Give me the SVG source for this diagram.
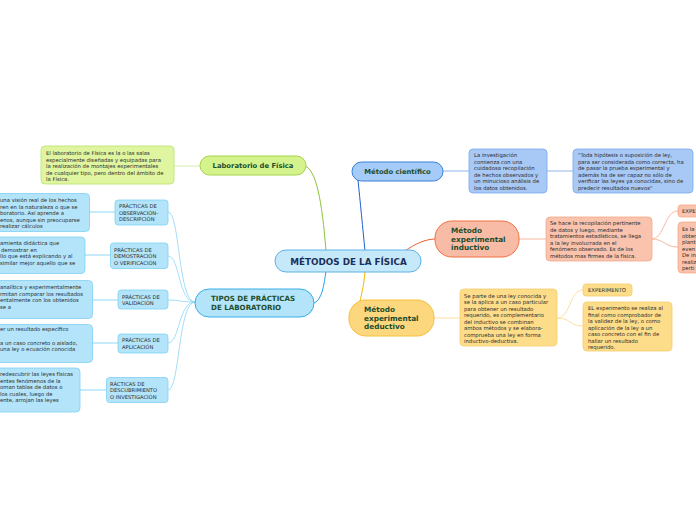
<svg xmlns="http://www.w3.org/2000/svg" width="696" height="520" viewBox="0 0 696 520">
<style>
text{font-family:"DejaVu Sans","Liberation Sans",sans-serif}
.s{font-size:5.3px;fill:#2a2a2a}
.c{font-size:5.2px;fill:#2a2a2a}
.m{font-size:7.3px;font-weight:bold;fill:#1e4d2b}
.cn{fill:none;stroke-width:1}
</style>
<rect width="696" height="520" fill="#fff"/>
<g id="connectors">
  <path class="cn" d="M305,166 C316,170 322,200 326,251" stroke="#8cc43c" stroke-width="1.4"/>
  <path class="cn" d="M174,166 H200" stroke="#d4ecab" stroke-width="1.5"/>
  <path class="cn" d="M358,180 C360,200 363,230 365,251" stroke="#1f5fd0" stroke-width="1.4"/>
  <path class="cn" d="M443,171 H469 M547,171 H573" stroke="#8fb4ec"/>
  <path class="cn" d="M405,251 C415,244 425,239 436,239" stroke="#f06030" stroke-width="1.4"/>
  <path class="cn" d="M519,239 H546" stroke="#f8b8a0"/>
  <path class="cn" d="M651,239 C665,239 664,211 678,211 M651,239 C665,239 664,247 678,247" stroke="#f8b8a0"/>
  <path class="cn" d="M365,271 C364,285 362,292 360,301" stroke="#f5b800" stroke-width="1.4"/>
  <path class="cn" d="M434,318 H460" stroke="#fde0a0"/>
  <path class="cn" d="M557,318 C571,318 569,290 583,290 M557,318 C571,318 569,326 583,326" stroke="#fde0a0"/>
  <path class="cn" d="M314,303 C322,300 324,285 326,271" stroke="#1ea4e4" stroke-width="1.4"/>
  <g stroke="#8dd6f4" fill="none" stroke-width="0.8">
    <path d="M168,212 C180,212 178,302 195,302"/>
    <path d="M168,256 C180,256 178,302 195,302"/>
    <path d="M168,300 C180,300 180,302 195,302"/>
    <path d="M168,343 C180,343 178,302 195,302"/>
    <path d="M168,390 C180,390 178,302 195,302"/>
    <path d="M89,212 H115 M85,255 H110 M92,300 H118 M92,343 H118 M80,390 H106" stroke-width="1"/>
  </g>
</g>
<g id="central">
  <rect x="275" y="250" width="146" height="22" rx="11" fill="#c6e9fa" stroke="#5eb0e5"/>
  <text x="348.5" y="264.5" text-anchor="middle" style="font-size:8.8px;font-weight:bold;fill:#1a2f5a">MÉTODOS DE LA FÍSICA</text>
</g>
<g id="lab">
  <rect x="200" y="156" width="106" height="19" rx="9.5" fill="#d5f38d" stroke="#a5d34a"/>
  <text x="253" y="168" text-anchor="middle" class="m" style="font-size:6.8px">Laboratorio de Física</text>
</g>
<g id="lab-desc">
  <rect x="41" y="146" width="133" height="38" rx="4" fill="#dff5a0" stroke="#b9e36b" stroke-width="0.8"/>
  <text class="s"><tspan x="46" y="155">El laboratorio de Física es la o las salas</tspan><tspan x="46" y="161.5">especialmente diseñadas y equipadas para</tspan><tspan x="46" y="168">la realización de montajes experimentales</tspan><tspan x="46" y="174.5">de cualquier tipo, pero dentro del ámbito de</tspan><tspan x="46" y="181">la Física.</tspan></text>
</g>
<g id="cientifico">
  <rect x="352" y="162" width="91" height="19" rx="9.5" fill="#a5ccf8" stroke="#3a7fd8"/>
  <text x="397.5" y="174" text-anchor="middle" class="m" style="font-size:6.8px">Método científico</text>
</g>
<g id="cientifico-1">
  <rect x="469" y="149" width="78" height="44" rx="4" fill="#a8c8f5" stroke="#7aa8ec" stroke-width="0.8"/>
  <text class="s"><tspan x="474" y="157">La investigación</tspan><tspan x="474" y="163.5">comienza con una</tspan><tspan x="474" y="170">cuidadosa recopilación</tspan><tspan x="474" y="176.5">de hechos observados y</tspan><tspan x="474" y="183">un minucioso análisis de</tspan><tspan x="474" y="189.5">los datos obtenidos.</tspan></text>
</g>
<g id="cientifico-2">
  <rect x="573" y="149" width="120" height="44" rx="4" fill="#a8c8f5" stroke="#7aa8ec" stroke-width="0.8"/>
  <text class="s"><tspan x="578" y="157">"Toda hipótesis o suposición de ley,</tspan><tspan x="578" y="163.5">para ser considerada como correcta, ha</tspan><tspan x="578" y="170">de pasar la prueba experimental y</tspan><tspan x="578" y="176.5">además ha de ser capaz no sólo de</tspan><tspan x="578" y="183">verificar las leyes ya conocidas, sino de</tspan><tspan x="578" y="189.5">predecir resultados nuevos"</tspan></text>
</g>
<g id="inductivo">
  <rect x="435" y="221" width="84" height="36" rx="17" fill="#f8bba6" stroke="#f07040"/>
  <text class="m"><tspan x="451" y="233">Método</tspan><tspan x="451" y="241.5">experimental</tspan><tspan x="451" y="250">inductivo</tspan></text>
</g>
<g id="inductivo-1">
  <rect x="546" y="217" width="106" height="44" rx="4" fill="#f9c3ad" stroke="#f5a888" stroke-width="0.8"/>
  <text class="s"><tspan x="550" y="225">Se hace la recopilación pertinente</tspan><tspan x="550" y="231.5">de datos y luego, mediante</tspan><tspan x="550" y="238">tratamientos estadísticos, se llega</tspan><tspan x="550" y="244.5">a la ley involucrada en el</tspan><tspan x="550" y="251">fenómeno observado. Es de los</tspan><tspan x="550" y="257.5">métodos mas firmes de la física.</tspan></text>
</g>
<g id="inductivo-exp">
  <rect x="678" y="205" width="30" height="12" rx="3" fill="#f9c3ad" stroke="#f5a888" stroke-width="0.8"/>
  <text x="682" y="213" class="s">EXPE</text>
</g>
<g id="inductivo-2">
  <rect x="678" y="222" width="30" height="51" rx="4" fill="#f9c3ad" stroke="#f5a888" stroke-width="0.8"/>
  <text class="s"><tspan x="682" y="231">Es la</tspan><tspan x="682" y="237.5">obten</tspan><tspan x="682" y="244">plant</tspan><tspan x="682" y="250.5">even</tspan><tspan x="682" y="257">De in</tspan><tspan x="682" y="263.5">realiz</tspan><tspan x="682" y="270">perti</tspan></text>
</g>
<g id="deductivo">
  <rect x="349" y="300" width="85" height="36" rx="17" fill="#fdd77e" stroke="#f5c03c"/>
  <text class="m"><tspan x="364" y="312">Método</tspan><tspan x="364" y="320.5">experimental</tspan><tspan x="364" y="329">deductivo</tspan></text>
</g>
<g id="deductivo-1">
  <rect x="460" y="289" width="97" height="57" rx="4" fill="#fddc8a" stroke="#f5cd6c" stroke-width="0.8"/>
  <text class="s"><tspan x="464" y="297.5">Se parte de una ley conocida y</tspan><tspan x="464" y="304">se la aplica a un caso particular</tspan><tspan x="464" y="310.5">para obtener un resultado</tspan><tspan x="464" y="317">requerido, es complementario</tspan><tspan x="464" y="323.5">del inductivo se combinan</tspan><tspan x="464" y="330">ambos métodos y se elabora-</tspan><tspan x="464" y="336.5">comprueba una ley en forma</tspan><tspan x="464" y="343">inductivo-deductiva.</tspan></text>
</g>
<g id="deductivo-exp">
  <rect x="583" y="284" width="49" height="12" rx="3" fill="#fddc8a" stroke="#f5cd6c" stroke-width="0.8"/>
  <text x="588" y="292" class="s">EXPERIMENTO</text>
</g>
<g id="deductivo-2">
  <rect x="583" y="302" width="89" height="49" rx="4" fill="#fddc8a" stroke="#f5cd6c" stroke-width="0.8"/>
  <text class="s"><tspan x="588" y="310">EL experimento se realiza al</tspan><tspan x="588" y="316.5">final como comprobador de</tspan><tspan x="588" y="323">la validez de la ley, o como</tspan><tspan x="588" y="329.5">aplicación de la ley a un</tspan><tspan x="588" y="336">caso concreto con el fin de</tspan><tspan x="588" y="342.5">hallar un resultado</tspan><tspan x="588" y="349">requerido.</tspan></text>
</g>
<g id="tipos">
  <rect x="195" y="289" width="119" height="28" rx="14" fill="#b3e4f9" stroke="#38aee6"/>
  <text class="m" style="font-size:7.1px"><tspan x="211" y="301">TIPOS DE PRÁCTICAS</tspan><tspan x="211" y="310">DE LABORATORIO</tspan></text>
</g>
<g id="obs">
  <rect x="115" y="200" width="53" height="25" rx="3" fill="#b3e4fa" stroke="#7fd0f3" stroke-width="0.8"/>
  <text class="c"><tspan x="119" y="208">PRÁCTICAS DE</tspan><tspan x="119" y="214.5">OBSERVACIÓN-</tspan><tspan x="119" y="221">DESCRIPCIÓN</tspan></text>
</g>
<g id="dem">
  <rect x="110.5" y="243" width="57.5" height="25.5" rx="3" fill="#b3e4fa" stroke="#7fd0f3" stroke-width="0.8"/>
  <text class="c"><tspan x="114" y="252">PRÁCTICAS DE</tspan><tspan x="114" y="258">DEMOSTRACIÓN</tspan><tspan x="114" y="264.5">O VERIFICACIÓN</tspan></text>
</g>
<g id="val">
  <rect x="118" y="290" width="50" height="19" rx="3" fill="#b3e4fa" stroke="#7fd0f3" stroke-width="0.8"/>
  <text class="c"><tspan x="122" y="298.5">PRÁCTICAS DE</tspan><tspan x="122" y="304.5">VALIDACIÓN</tspan></text>
</g>
<g id="apl">
  <rect x="118" y="334" width="50" height="19" rx="3" fill="#b3e4fa" stroke="#7fd0f3" stroke-width="0.8"/>
  <text class="c"><tspan x="122" y="342">PRÁCTICAS DE</tspan><tspan x="122" y="348.5">APLICACIÓN</tspan></text>
</g>
<g id="desc">
  <rect x="106.5" y="377.5" width="61.5" height="25" rx="3" fill="#b3e4fa" stroke="#7fd0f3" stroke-width="0.8"/>
  <text class="c"><tspan x="110" y="385.5">RÁCTICAS DE</tspan><tspan x="110" y="392">DESCUBRIMIENTO</tspan><tspan x="110" y="398.5">O INVESTIGACIÓN</tspan></text>
</g>
<g id="obs-desc">
  <rect x="-10" y="193.5" width="99.5" height="38" rx="4" fill="#b3e4fa" stroke="#7fd0f3" stroke-width="0.8"/>
  <text class="s"><tspan x="0" y="202">una visión real de los hechos</tspan><tspan x="0" y="208.5">ren en la naturaleza o que se</tspan><tspan x="0" y="215">boratorio. Así aprende a</tspan><tspan x="0" y="221.5">enos, aunque sin preocuparse</tspan><tspan x="0" y="228">realizar cálculos</tspan></text>
</g>
<g id="dem-desc">
  <rect x="-10" y="237" width="95" height="36.5" rx="4" fill="#b3e4fa" stroke="#7fd0f3" stroke-width="0.8"/>
  <text class="s"><tspan x="0" y="245">amienta didáctica que</tspan><tspan x="1" y="251.5">demostrar en</tspan><tspan x="0" y="258">llo que está explicando y al</tspan><tspan x="0" y="264.5">similar mejor aquello que se</tspan></text>
</g>
<g id="val-desc">
  <rect x="-10" y="280.5" width="102.5" height="38" rx="4" fill="#b3e4fa" stroke="#7fd0f3" stroke-width="0.8"/>
  <text class="s"><tspan x="0" y="289">analítica y experimentalmente</tspan><tspan x="0" y="295.5">rmitan comparar los resultados</tspan><tspan x="0" y="302">entalmente con los obtenidos</tspan><tspan x="0" y="308.5">se a</tspan></text>
</g>
<g id="apl-desc">
  <rect x="-10" y="324.5" width="102.5" height="38" rx="4" fill="#b3e4fa" stroke="#7fd0f3" stroke-width="0.8"/>
  <text class="s"><tspan x="0" y="331">er un resultado específico</tspan><tspan x="0" y="344.5">a un caso concreto o aislado,</tspan><tspan x="0" y="351">una ley o ecuación conocida</tspan></text>
</g>
<g id="desc-desc">
  <rect x="-10" y="368" width="90" height="44" rx="4" fill="#b3e4fa" stroke="#7fd0f3" stroke-width="0.8"/>
  <text class="s"><tspan x="0" y="376">redescubrir las leyes físicas</tspan><tspan x="0" y="382.5">entes fenómenos de la</tspan><tspan x="0" y="389">oman tablas de datos o</tspan><tspan x="0" y="395.5">los cuales, luego de</tspan><tspan x="0" y="402">ente, arrojan las leyes</tspan></text>
</g>
</svg>
